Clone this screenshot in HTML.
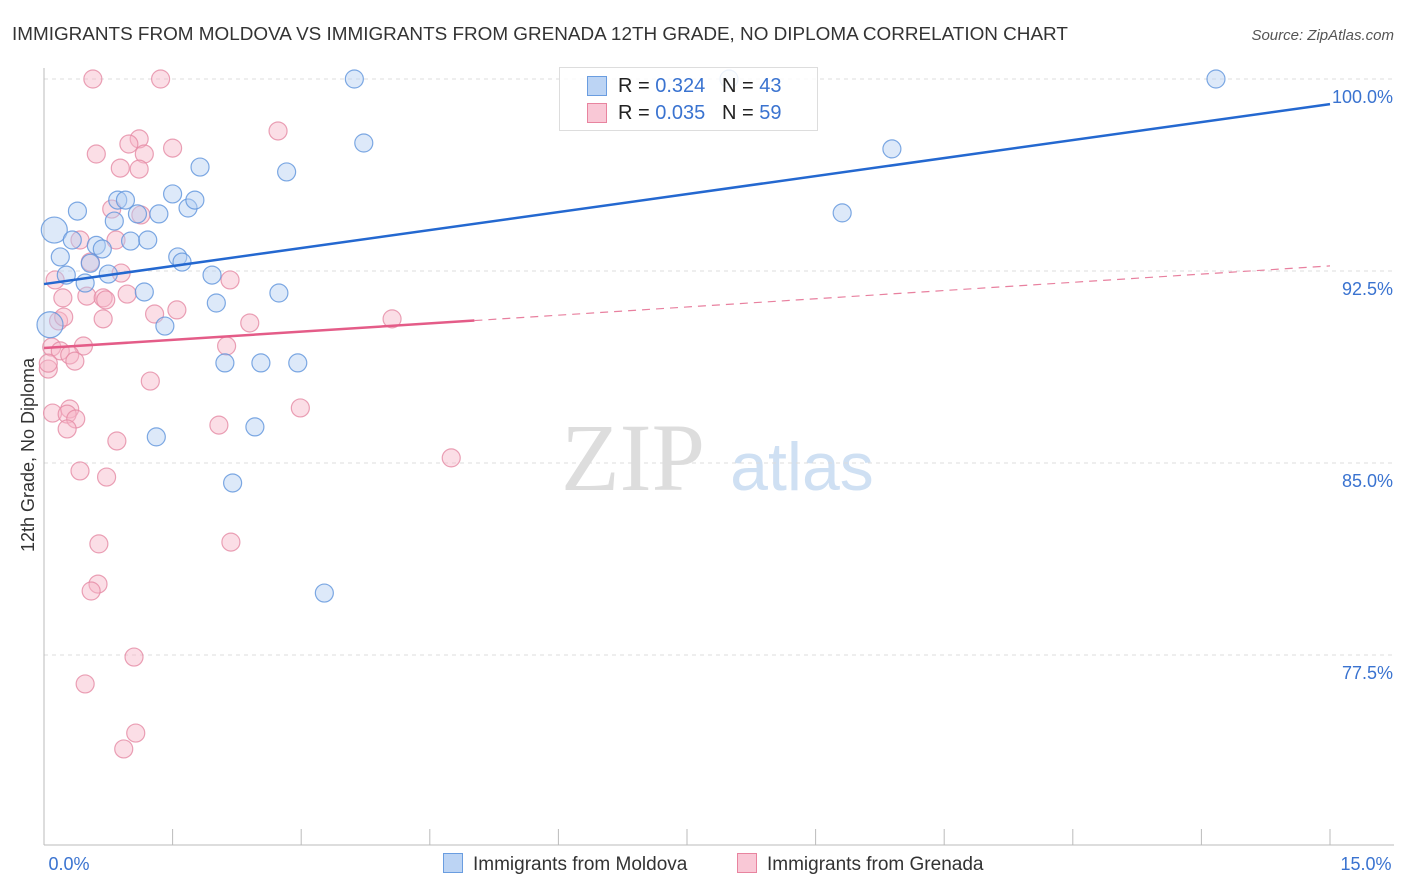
<!DOCTYPE html>
<html><head><meta charset="utf-8"><style>
body{margin:0;background:#fff;font-family:"Liberation Sans",sans-serif;}
#wrap{position:relative;width:1406px;height:892px;overflow:hidden;}
</style></head><body>
<div id="wrap">
<svg id="svg" width="1406" height="892" xmlns="http://www.w3.org/2000/svg">
<text x="12" y="40" font-size="18.9" fill="#333">IMMIGRANTS FROM MOLDOVA VS IMMIGRANTS FROM GRENADA 12TH GRADE, NO DIPLOMA CORRELATION CHART</text>
<text x="1394" y="40" font-size="15" fill="#555" text-anchor="end" font-style="italic">Source: ZipAtlas.com</text>
<text x="633" y="490" font-size="96" fill="#ddd" font-family="Liberation Serif" text-anchor="middle">ZIP</text>
<text x="802" y="490" font-size="68" fill="#cfe0f3" text-anchor="middle">atlas</text>
<text transform="translate(34,455) rotate(-90)" font-size="18" fill="#333" text-anchor="middle">12th Grade, No Diploma</text>
<g id="grid"></g><g id="marks"></g>
</svg>
<div style="position:absolute;left:559px;top:67px;width:257px;height:62px;border:1px solid #ddd;background:rgba(255,255,255,0.85);font-size:20px;">
<div style="position:absolute;left:27px;top:8px;width:18px;height:18px;background:#bcd4f4;border:1px solid #6a9de0"></div>
<div style="position:absolute;left:58px;top:7px;color:#222">R = <span style="color:#3a73d0">0.324</span>&nbsp;&nbsp;&nbsp;N = <span style="color:#3a73d0">43</span></div>
<div style="position:absolute;left:27px;top:35px;width:18px;height:18px;background:#f9c8d6;border:1px solid #e8849f"></div>
<div style="position:absolute;left:58px;top:34px;color:#222">R = <span style="color:#3a73d0">0.035</span>&nbsp;&nbsp;&nbsp;N = <span style="color:#3a73d0">59</span></div>
</div>
<div style="position:absolute;left:443px;top:853px;font-size:19px;color:#333"><span style="display:inline-block;width:18px;height:18px;background:#bcd4f4;border:1px solid #6a9de0;vertical-align:-3px;margin-right:10px"></span>Immigrants from Moldova</div>
<div style="position:absolute;left:737px;top:853px;font-size:19px;color:#333"><span style="display:inline-block;width:18px;height:18px;background:#f9c8d6;border:1px solid #e8849f;vertical-align:-3px;margin-right:10px"></span>Immigrants from Grenada</div>
</div>
<script>
const yTicks=[100,92.5,85,77.5];
const yTickLabels=["100.0%","92.5%","85.0%","77.5%"];
const xTickLabels=["0.0%","15.0%"];
const moldovaX=[0.12,0.19,0.26,0.33,0.39,0.48,0.61,0.68,0.75,0.82,0.86,0.95,1.01,1.09,1.17,1.21,1.34,1.41,1.5,1.56,1.61,1.68,1.76,1.82,1.96,2.01,2.11,2.2,2.46,2.53,2.74,2.83,2.96,3.27,3.62,3.73,1.31,7.99,9.31,9.89,13.67,0.07,0.54];
const moldovaY=[94.1,93.05,92.34,93.71,94.84,92.03,93.5,93.36,92.38,94.45,95.27,95.27,93.67,94.73,91.68,93.71,94.73,90.35,95.51,93.05,92.85,94.96,95.27,96.56,92.34,91.25,88.91,84.22,86.41,88.91,91.64,96.37,88.91,79.92,100,97.5,86.02,100,94.77,97.27,100,90.4,92.8];
const grenadaX=[0.57,1.36,2.73,1.11,0.99,0.61,1.17,1.5,0.89,1.11,0.79,1.13,0.42,0.84,0.54,0.9,0.13,0.22,0.5,0.69,0.72,0.97,1.29,1.55,2.17,2.4,0.17,0.23,0.69,4.06,2.13,0.46,0.09,0.19,0.3,0.36,1.24,0.05,2.99,0.1,0.3,0.27,0.37,0.27,2.04,0.85,4.75,0.42,0.73,0.64,2.18,0.63,0.55,1.05,0.48,1.07,0.93,0.05];
const grenadaY=[100,100,97.97,97.66,97.46,97.07,97.07,97.3,96.52,96.48,94.92,94.69,93.71,93.71,92.85,92.42,92.15,91.45,91.52,91.45,91.37,91.6,90.82,90.98,92.15,90.47,90.55,90.7,90.63,90.63,89.57,89.57,89.53,89.38,89.22,88.98,88.2,88.67,87.15,86.95,87.11,86.91,86.72,86.33,86.48,85.86,85.2,84.69,84.45,81.84,81.91,80.27,80,77.42,76.37,74.45,73.83,88.9];
const moldovaTrend=[91.99,99.02];
const grenadaTrend=[89.49,92.70];
const grenadaSolidEnd=5.02;
const X0=44,X1=1330,XMAX=15,YTOP=79,PXPER=25.6;
function sx(v){return X0+(v/XMAX)*(X1-X0);}
function sy(v){return YTOP+(100-v)*PXPER;}
const NS="http://www.w3.org/2000/svg";
function mk(tag,attrs,parent){const e=document.createElementNS(NS,tag);for(const k in attrs)e.setAttribute(k,attrs[k]);parent.appendChild(e);return e;}
const grid=document.getElementById('grid'),marks=document.getElementById('marks');
yTicks.forEach((t,i)=>{
 const l=mk('line',{x1:44,x2:1394,y1:sy(t),y2:sy(t),stroke:'#ddd','stroke-dasharray':'4,4'},grid);
 
 
 const tx=mk('text',{x:1393,y:sy(t)+24,'font-size':18,fill:'#3a73d0','text-anchor':'end'},grid);
 tx.textContent=yTickLabels[i];
 
 
});
const ya=mk('line',{x1:44,x2:44,y1:68,y2:845,stroke:'#bbb'},grid);


const xa=mk('line',{x1:44,x2:1394,y1:845,y2:845,stroke:'#bbb'},grid);


for(let i=0;i<=10;i++){const px=X0+i*(X1-X0)/10;const t=mk('line',{x1:px,x2:px,y1:829,y2:845,stroke:'#bbb'},grid);
 
 }
[[0,69,'middle'],[15,1366,'middle']].forEach((a,i)=>{const t=mk('text',{x:a[1],y:870,'font-size':18,fill:'#3a73d0','text-anchor':a[2]},grid);t.textContent=xTickLabels[i];
 
 });
function dots(xs,ys,fill,stroke,name){xs.forEach((x,i)=>{const big=(i===0&&name==='moldova-point')||(i===xs.length-2&&name==='moldova-point');
 const c=mk('circle',{cx:sx(x),cy:sy(ys[i]),r:big?13:9,fill:fill,'fill-opacity':0.45,stroke:stroke,'stroke-opacity':0.8,'stroke-width':1.2},marks);
 
 });}
dots(grenadaX,grenadaY,'#f6b6c8','#e58aa4','grenada-point');
dots(moldovaX,moldovaY,'#b4cff2','#5e93dc','moldova-point');
const bl=mk('line',{x1:sx(0),y1:sy(moldovaTrend[0]),x2:sx(15),y2:sy(moldovaTrend[1]),stroke:'#2468d0','stroke-width':2.5},marks);


const gy=v=>grenadaTrend[0]+(grenadaTrend[1]-grenadaTrend[0])*v/15;
const pl=mk('line',{x1:sx(0),y1:sy(gy(0)),x2:sx(grenadaSolidEnd),y2:sy(gy(grenadaSolidEnd)),stroke:'#e45c88','stroke-width':2.5},marks);


const pd=mk('line',{x1:sx(grenadaSolidEnd),y1:sy(gy(grenadaSolidEnd)),x2:sx(15),y2:sy(gy(15)),stroke:'#e8809f','stroke-width':1.2,'stroke-dasharray':'8,6'},marks);


</script>
</body></html>
